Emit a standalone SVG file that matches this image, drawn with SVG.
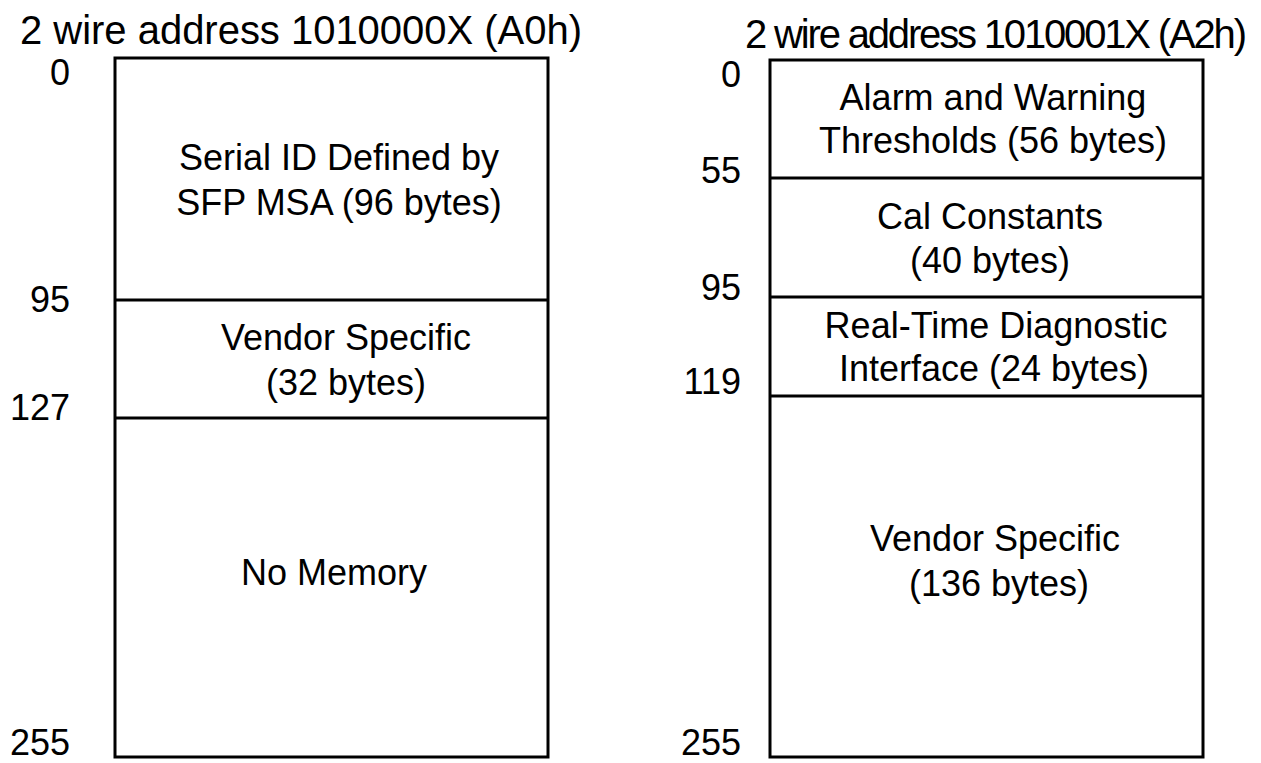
<svg xmlns="http://www.w3.org/2000/svg" width="1261" height="763" viewBox="0 0 1261 763">
<style>
text{font-family:"Liberation Sans",Arial,sans-serif;fill:#000}
.t{font-size:40px}
.n{font-size:36px;text-anchor:end}
.l{font-size:36px;text-anchor:middle}
.b{fill:#fff;stroke:#000;stroke-width:3}
.d{stroke:#000;stroke-width:3}
</style>
<rect width="1261" height="763" fill="#fff"/>
<g id="a0-title"><text class="t" x="20" y="44" textLength="562">2 wire address 1010000X (A0h)</text></g>
<g id="a2-title"><text class="t" x="745" y="48" textLength="502">2 wire address 1010001X (A2h)</text></g>
<g id="a0-box"><rect class="b" x="115" y="58" width="433" height="699"/></g>
<g id="a2-box"><rect class="b" x="770" y="60" width="433" height="697"/></g>
<g id="dividers">
<line class="d" x1="115" y1="300" x2="548" y2="300"/>
<line class="d" x1="115" y1="418" x2="548" y2="418"/>
<line class="d" x1="770" y1="178" x2="1203" y2="178"/>
<line class="d" x1="770" y1="297" x2="1203" y2="297"/>
<line class="d" x1="770" y1="396" x2="1203" y2="396"/>
</g>
<g id="a0-offsets">
<text class="n" x="70" y="85">0</text>
<text class="n" x="70" y="312">95</text>
<text class="n" x="70" y="420">127</text>
<text class="n" x="70" y="755">255</text>
</g>
<g id="a2-offsets">
<text class="n" x="741" y="87">0</text>
<text class="n" x="741" y="183">55</text>
<text class="n" x="741" y="300">95</text>
<text class="n" x="741" y="394">119</text>
<text class="n" x="741" y="755">255</text>
</g>
<g id="serial-id">
<text class="l" x="339" y="170">Serial ID Defined by</text>
<text class="l" x="339" y="215">SFP MSA (96 bytes)</text>
</g>
<g id="vendor-a0">
<text class="l" x="346" y="350">Vendor Specific</text>
<text class="l" x="346" y="395">(32 bytes)</text>
</g>
<g id="no-memory"><text class="l" x="334" y="585">No Memory</text></g>
<g id="alarm">
<text class="l" x="993" y="110">Alarm and Warning</text>
<text class="l" x="993" y="153">Thresholds (56 bytes)</text>
</g>
<g id="cal">
<text class="l" x="990" y="229">Cal Constants</text>
<text class="l" x="990" y="273">(40 bytes)</text>
</g>
<g id="rtdi">
<text class="l" x="996" y="338">Real-Time Diagnostic</text>
<text class="l" x="994" y="381">Interface (24 bytes)</text>
</g>
<g id="vendor-a2">
<text class="l" x="995" y="551">Vendor Specific</text>
<text class="l" x="999" y="596">(136 bytes)</text>
</g>
</svg>
